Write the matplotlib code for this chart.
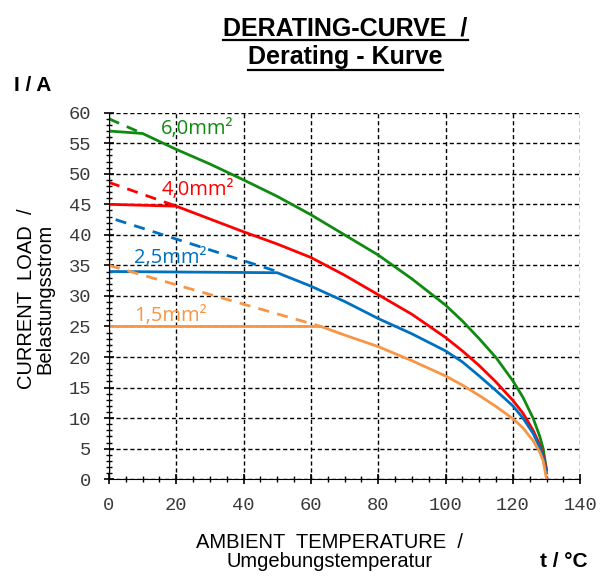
import matplotlib.pyplot as plt
from matplotlib.lines import Line2D
from matplotlib.ticker import MultipleLocator

# solid curves: ambient temperature (degC) -> current load (A)
t_60 = [0, 10, 20, 30, 40, 50, 60, 70, 80, 90, 100, 105, 110, 115, 120, 123, 126, 128, 129, 130]
i_60 = [57, 56.6, 54.0, 51.6, 49.0, 46.3, 43.3, 40.0, 36.7, 32.8, 28.5, 25.9, 23.0, 19.9, 16.1, 13.4, 10.0, 7.0, 5.0, 1.5]

t_40 = [0, 20, 30, 40, 50, 60, 70, 80, 90, 100, 105, 110, 115, 120, 123, 126, 128, 129, 130]
i_40 = [45, 44.7, 42.6, 40.5, 38.5, 36.3, 33.4, 30.2, 27.0, 23.2, 21.0, 18.6, 15.9, 12.9, 10.8, 8.0, 5.6, 4.0, 1.5]

t_25 = [0, 50, 60, 70, 80, 90, 100, 105, 110, 115, 120, 123, 126, 128, 129, 130]
i_25 = [34, 33.8, 31.6, 29.1, 26.3, 23.8, 21.0, 19.2, 16.9, 14.5, 12.0, 10.0, 7.5, 5.2, 3.6, 1.0]

t_15 = [0, 63, 70, 80, 90, 100, 105, 110, 115, 120, 123, 126, 128, 129, 130]
i_15 = [25, 25, 23.6, 21.7, 19.4, 16.9, 15.4, 13.7, 11.9, 9.9, 8.4, 6.3, 4.4, 3.0, 0]

# dashed extrapolation lines
dt_60, di_60 = [0, 10], [59, 56.6]
dt_40, di_40 = [0, 20], [48.6, 44.7]
dt_25, di_25 = [2, 50], [42.5, 34]
dt_15, di_15 = [0, 63], [35, 25]

labels = ['6,0mm²', '4,0mm²', '2,5mm²', '1,5mm²']
label_pos = [(15.3, 57.4), (15.8, 47.4), (7.6, 36.2), (7.6, 26.7)]
colors = ['#108a10', '#ff0000', '#0070c0', '#f79646']

sans = 'Liberation Sans'

fig = plt.figure(figsize=(6.05, 5.78), dpi=100)
ax = fig.add_axes([0.180, 0.171, 0.779, 0.634])

solids = [(t_60, i_60), (t_40, i_40), (t_25, i_25), (t_15, i_15)]
dashes = [(dt_60, di_60), (dt_40, di_40), (dt_25, di_25), (dt_15, di_15)]
for (t, i), (dt, di), c, lab, pos in zip(solids, dashes, colors, labels, label_pos):
    ax.plot(dt, di, color=c, lw=2, ls=(0, (4, 3)))
    ax.plot(t, i, color=c, lw=2)
    ax.text(pos[0], pos[1], lab, color=c, fontsize=14.5, family='Open Sans',
            va='center', ha='left')

ax.set_xlim(0, 140)
ax.set_ylim(0, 60)
ax.xaxis.set_major_locator(MultipleLocator(20))
ax.xaxis.set_minor_locator(MultipleLocator(5))
ax.yaxis.set_major_locator(MultipleLocator(5))
ax.yaxis.set_minor_locator(MultipleLocator(1))
ax.grid(True, which='major', color='black', ls=(0, (3, 2)), lw=1)
ax.spines['top'].set_visible(False)
ax.spines['right'].set_visible(False)
ax.tick_params(which='major', direction='inout', length=7, width=1.2,
               labelsize=13.5, labelcolor='#3a3a3a', pad=9)
ax.tick_params(which='minor', direction='inout', length=5, width=1)
for lab in ax.get_xticklabels() + ax.get_yticklabels():
    lab.set_family('Liberation Mono')

fig.text(0.545, 0.045, 'AMBIENT  TEMPERATURE  /\nUmgebungstemperatur', family=sans,
         fontsize=14.5, ha='center', va='center', linespacing=0.95)
fig.text(0.0595, 0.483, 'CURRENT  LOAD  /\nBelastungsstrom', family=sans,
         fontsize=14.5, ha='center', va='center', rotation=90, linespacing=0.95)

t1 = fig.text(0.571, 0.9394, 'DERATING-CURVE  /', ha='center', va='baseline',
              fontsize=18, weight='bold', family=sans)
t2 = fig.text(0.571, 0.8893, 'Derating - Kurve', ha='center', va='baseline',
              fontsize=18, weight='bold', family=sans)
fig.text(0.023, 0.8426, 'I / A', fontsize=15, weight='bold', family=sans, va='baseline')
fig.text(0.893, 0.019, 't / °C', fontsize=15, weight='bold', family=sans, va='baseline')

# underline the title lines just under the baseline
for t, y_px in ((t1, 39.5), (t2, 70)):
    fig.canvas.draw()
    bb = t.get_window_extent().transformed(fig.transFigure.inverted())
    y = 1 - y_px / 578
    fig.add_artist(Line2D([bb.x0, bb.x1], [y, y], color='black', lw=1.6,
                          transform=fig.transFigure))

fig.savefig('out.png', dpi=100)
